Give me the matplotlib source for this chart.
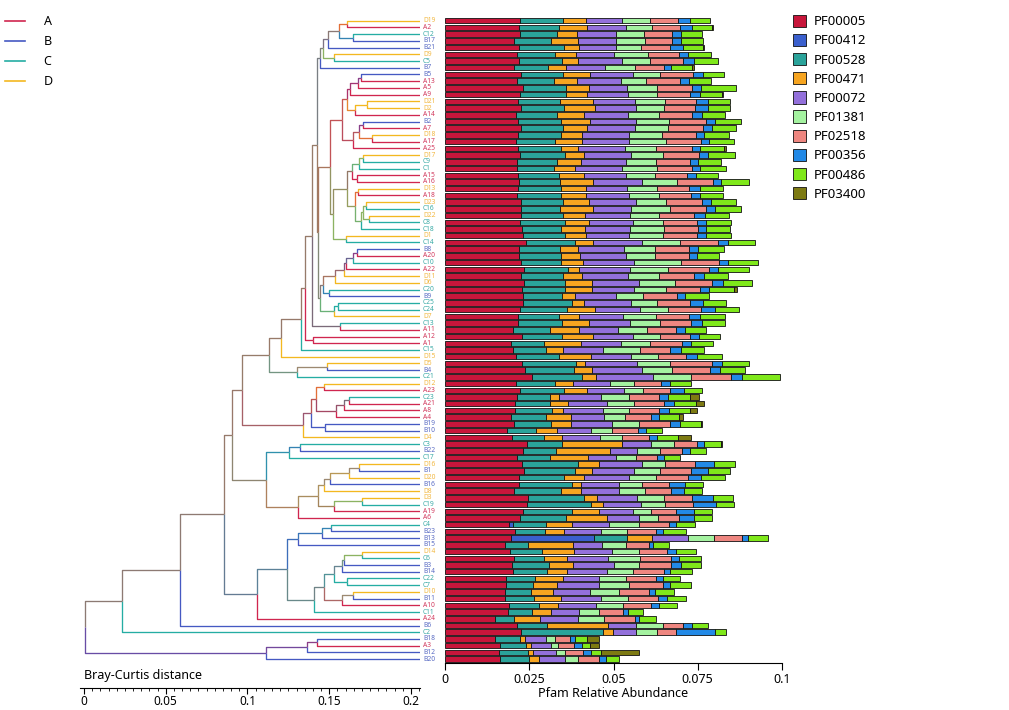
import numpy as np
import matplotlib
matplotlib.use("Agg")
import matplotlib.pyplot as plt
import matplotlib.colors as mcolors
from matplotlib.lines import Line2D
from matplotlib.patches import Patch

plt.rcParams["font.family"] = ["Noto Sans", "DejaVu Sans"]

# ---------------------------------------------------------------------------
# Data
# ---------------------------------------------------------------------------
samples = [
    "D19", "A2", "C12", "B17", "B21", "D9", "C5", "B7", "B5", "A13",
    "A5", "A9", "D21", "D2", "A14", "B2", "A7", "D18", "A17", "A25",
    "D17", "C9", "C1", "A15", "A16", "D13", "A18", "D23", "C16", "D22",
    "C8", "C18", "D1", "C14", "B8", "A20", "C10", "A22", "D11", "D6",
    "C20", "B9", "C25", "C24", "D7", "C13", "A11", "A12", "A1", "C15",
    "D15", "D5", "B4", "C21", "D12", "A23", "C23", "A21", "A8", "A4",
    "B19", "B10", "D4", "C3", "B22", "C17", "D16", "B1", "D20", "B16",
    "D8", "D3", "C19", "A19", "A6", "C4", "B23", "B13", "B15", "D14",
    "C6", "B3", "B14", "C22", "C7", "D10", "B11", "A10", "C11", "A24",
    "B6", "C2", "B18", "A3", "B12", "B20",
]

groups = ["A", "B", "C", "D"]
group_colors = ["#d0264f", "#4559c2", "#25ada3", "#f3b820"]
label_colors = ["#d23a5e", "#5a6cc4", "#3aaaa6", "#f2b842"]

families = ["PF00005", "PF00412", "PF00528", "PF00471", "PF00072",
            "PF01381", "PF02518", "PF00356", "PF00486", "PF03400"]
family_colors = ["#c8163b", "#3a5fcd", "#2aa39a", "#f7a520", "#9370db",
                 "#a4f2a0", "#ee8680", "#2289e6", "#7fe81a", "#7d7a12"]

# relative abundance, in units of 1e-3, one value per sample (same order)
pf00005 = [22.3, 22.1, 22.3, 20.5, 22.1, 21.5, 22.1, 20.6, 22.6, 21.3,
           23.2, 22.3, 21.8, 22.6, 21.2, 21.8, 22.6, 21.8, 21.2, 21.8,
           22.4, 21.3, 21.5, 21.8, 22.0, 21.8, 21.3, 22.6, 22.6, 22.6,
           22.4, 22.9, 23.1, 24.1, 22.1, 21.9, 22.6, 23.5, 22.7, 23.4,
           22.9, 23.1, 23.1, 22.3, 21.8, 21.8, 20.3, 22.9, 19.6, 20.3,
           21.2, 22.9, 23.8, 25.8, 21.1, 22.4, 21.3, 20.8, 20.8, 19.7,
           20.6, 18.3, 19.8, 24.4, 23.2, 21.5, 22.9, 23.5, 22.1, 22.1,
           20.6, 24.7, 24.2, 23.2, 22.4, 19.0, 20.8, 19.6, 17.9, 19.3,
           20.5, 20.0, 20.3, 18.1, 18.1, 17.8, 17.9, 19.0, 18.6, 14.9,
           21.5, 22.6, 14.9, 16.4, 16.1, 16.4]
pf00412 = [0, 0, 0, 0, 0, 0, 0, 0, 0, 0,
           0, 0, 0, 0, 0, 0, 0, 0, 0, 0,
           0, 0, 0, 0, 0, 0, 0, 0, 0, 0,
           0, 0, 0, 0, 0, 0, 0, 0, 0, 0,
           0, 0, 0, 0, 0, 0, 0, 0, 0, 0,
           0, 0, 0, 0, 0, 0, 0, 0, 0, 0,
           0, 0, 0, 0, 0, 0, 0, 0, 0, 0,
           0, 0, 0, 0, 0, 1.3, 0, 24.7, 0, 0,
           0, 0, 0, 0, 0, 0, 0, 0, 0, 0,
           0, 0, 0, 0, 0, 0]
pf00528 = [12.6, 11.6, 10.8, 10.9, 13.2, 11.1, 12.6, 9.9, 12.5, 11.0,
           12.6, 13.6, 12.2, 12.8, 11.9, 12.5, 12.4, 12.6, 11.3, 12.5,
           13.1, 11.8, 10.7, 11.9, 12.2, 12.7, 13.1, 12.5, 11.6, 12.5,
           13.1, 11.4, 12.5, 14.5, 11.9, 12.6, 11.7, 13.0, 12.4, 12.3,
           12.8, 11.7, 14.6, 14.0, 12.1, 12.8, 11.0, 11.8, 9.9, 9.6,
           12.5, 15.9, 14.5, 14.9, 11.6, 12.8, 10.0, 10.3, 10.9, 10.2,
           10.8, 8.6, 9.7, 10.4, 9.8, 9.6, 16.7, 15.1, 13.2, 15.7,
           13.7, 16.4, 19.1, 14.6, 13.6, 9.6, 9.0, 9.8, 6.8, 9.5,
           9.0, 11.0, 9.9, 8.5, 8.1, 7.7, 8.5, 8.9, 7.3, 5.7,
           8.9, 24.3, 7.5, 7.7, 8.6, 8.6]
pf00471 = [7.0, 8.5, 6.2, 8.2, 4.6, 6.4, 4.9, 5.3, 8.0, 6.8,
           7.0, 6.3, 9.9, 9.1, 8.2, 8.6, 7.1, 6.4, 8.3, 5.3,
           5.6, 7.4, 6.4, 7.4, 9.6, 7.4, 7.4, 7.7, 9.8, 6.5,
           7.1, 7.3, 6.1, 5.3, 5.6, 5.7, 6.7, 3.4, 5.6, 7.8,
           7.8, 3.9, 3.6, 8.3, 6.0, 8.0, 8.6, 9.2, 11.0, 5.2,
           9.6, 2.8, 5.4, 4.2, 5.4, 6.8, 2.6, 5.5, 3.2, 7.5,
           6.0, 6.4, 5.3, 17.6, 15.9, 11.3, 6.2, 5.0, 5.8, 2.7,
           6.2, 3.9, 3.7, 7.9, 12.0, 7.7, 5.6, 7.4, 13.2, 9.6,
           6.8, 7.1, 6.1, 8.5, 7.1, 6.4, 8.0, 5.7, 5.6, 7.5,
           17.9, 3.0, 1.2, 1.4, 1.5, 2.8]
pf00072 = [10.7, 11.4, 11.3, 11.0, 10.7, 11.2, 13.0, 11.8, 12.8, 13.0,
           11.1, 12.0, 12.6, 12.2, 12.9, 13.8, 14.3, 13.9, 13.9, 13.9,
           14.2, 13.3, 13.8, 12.5, 14.6, 12.2, 12.7, 13.8, 11.1, 13.4,
           13.1, 13.2, 12.9, 14.5, 13.4, 13.5, 15.1, 14.9, 13.6, 14.1,
           12.7, 12.0, 13.8, 13.4, 13.0, 12.2, 11.3, 12.0, 11.8, 11.8,
           11.8, 15.5, 14.7, 16.9, 10.8, 11.0, 12.4, 11.6, 12.1, 9.9,
           12.3, 9.9, 11.2, 8.8, 8.1, 8.3, 12.7, 12.5, 13.5, 11.2,
           11.0, 11.9, 11.1, 10.1, 9.5, 11.2, 11.0, 10.7, 8.8, 11.3,
           12.2, 12.1, 11.8, 10.7, 12.5, 11.0, 11.8, 11.1, 8.3, 11.4,
           8.3, 6.8, 6.3, 6.0, 6.8, 7.9]
pf01381 = [8.1, 7.7, 8.4, 8.6, 7.7, 9.9, 8.3, 8.7, 8.0, 7.4,
           9.0, 8.8, 8.7, 8.4, 9.2, 9.9, 9.7, 9.6, 10.9, 9.2,
           9.4, 8.9, 10.6, 8.8, 10.4, 8.7, 9.0, 9.0, 11.7, 8.6,
           9.0, 10.3, 10.1, 11.2, 9.2, 8.5, 13.9, 11.5, 9.2, 10.7,
           9.5, 8.2, 7.8, 8.3, 9.6, 8.9, 8.7, 8.0, 8.4, 11.1,
           8.1, 9.8, 8.9, 11.1, 7.1, 5.9, 8.3, 8.0, 7.6, 6.0,
           8.0, 6.4, 6.4, 6.8, 6.8, 5.9, 6.9, 7.7, 8.0, 6.7,
           7.8, 8.0, 7.1, 5.4, 5.6, 8.7, 7.7, 7.7, 6.9, 7.8,
           9.5, 7.3, 7.6, 7.8, 8.9, 8.6, 8.0, 8.0, 6.0, 7.8,
           8.0, 6.2, 2.6, 2.1, 2.7, 3.9]
pf02518 = [8.3, 8.3, 8.5, 8.3, 8.5, 9.2, 9.8, 8.8, 9.8, 10.1,
           10.3, 9.8, 9.3, 9.2, 9.8, 10.7, 10.5, 10.1, 10.5, 10.7,
           10.7, 10.1, 10.3, 9.5, 10.6, 9.5, 9.6, 10.7, 10.6, 10.3,
           10.1, 9.9, 10.2, 11.4, 10.1, 10.1, 11.3, 11.9, 10.3, 10.8,
           10.1, 9.9, 9.9, 9.8, 9.8, 9.3, 8.7, 8.8, 9.5, 8.9,
           8.2, 12.4, 11.2, 12.1, 8.2, 7.9, 8.9, 8.9, 9.0, 7.9,
           9.1, 7.7, 8.2, 6.7, 6.5, 6.4, 8.9, 9.3, 9.4, 8.0,
           7.8, 8.5, 8.3, 7.4, 6.4, 8.9, 8.5, 8.1, 7.0, 8.5,
           9.1, 9.5, 9.4, 9.0, 10.1, 9.0, 9.1, 8.5, 7.1, 9.2,
           5.9, 5.7, 4.7, 4.7, 5.3, 6.2]
pf00356 = [3.6, 3.6, 2.6, 2.6, 3.9, 2.9, 3.3, 2.1, 2.9, 2.7,
           2.9, 3.0, 3.5, 3.6, 3.1, 2.7, 2.6, 2.5, 2.3, 2.3,
           2.7, 2.4, 2.4, 2.5, 2.4, 3.3, 2.7, 2.5, 2.7, 3.2,
           2.7, 2.5, 2.6, 3.1, 2.8, 2.6, 2.7, 2.9, 3.0, 3.4,
           2.6, 2.3, 3.8, 4.1, 3.3, 3.2, 2.6, 2.6, 2.9, 3.2,
           3.5, 3.0, 3.0, 3.0, 2.6, 4.0, 2.7, 3.0, 2.8, 2.4,
           2.8, 2.3, 2.4, 2.2, 2.4, 2.1, 5.5, 5.0, 4.0, 4.7,
           3.7, 6.2, 6.8, 5.3, 4.5, 2.0, 2.2, 2.0, 1.2, 2.4,
           2.2, 3.0, 1.8, 2.0, 2.0, 1.9, 2.5, 2.2, 1.5, 1.1,
           2.9, 11.6, 1.4, 2.5, 2.2, 2.1]
pf00486 = [6.1, 6.0, 6.2, 6.6, 5.8, 6.8, 6.9, 6.2, 6.2, 6.7,
           10.3, 6.5, 6.5, 6.7, 6.9, 7.7, 7.1, 7.3, 7.4, 7.2,
           8.0, 6.8, 7.7, 6.7, 8.3, 6.8, 6.6, 7.5, 7.6, 7.3,
           7.5, 7.1, 7.3, 8.0, 7.6, 6.4, 8.9, 9.0, 7.3, 8.5,
           7.5, 7.3, 6.9, 7.1, 7.4, 6.8, 6.1, 6.3, 6.3, 6.7,
           7.4, 7.9, 7.4, 11.5, 6.1, 5.5, 6.4, 6.5, 6.2, 5.7,
           6.3, 4.9, 6.2, 4.9, 4.7, 4.6, 6.2, 6.4, 7.2, 5.5,
           5.5, 5.9, 5.4, 5.2, 5.3, 5.8, 6.6, 5.9, 4.7, 6.1,
           6.8, 6.1, 6.5, 5.1, 6.3, 5.6, 5.7, 5.5, 4.5, 5.1,
           4.5, 3.3, 3.4, 2.3, 3.2, 3.8]
pf03400 = [0, 0.3, 0, 0, 0.5, 0, 0, 0.5, 0, 0,
           0, 0.3, 0, 0, 0, 0, 0, 0, 0, 0.4,
           0, 0, 0, 0, 0, 0, 0, 0, 0, 0,
           0, 0, 0, 0, 0, 0, 0, 0, 0, 0,
           0.7, 0, 0, 0, 0, 0, 0, 0, 0, 0,
           0, 0, 0, 0, 0, 0, 2.9, 2.4, 2.1, 1.4,
           0.5, 0, 3.9, 0.3, 0, 0, 0, 0, 0, 0,
           0, 0, 0, 0, 0, 0, 0, 0, 0, 0,
           0, 0, 0, 0, 0, 0, 0, 0, 0, 0,
           0, 0, 3.8, 2.5, 11.1, 0]

family_values = [pf00005, pf00412, pf00528, pf00471, pf00072,
                 pf01381, pf02518, pf00356, pf00486, pf03400]

# Bray-Curtis clustering, written as (merge position on the axis, left, right)
top_0_7 = (0.1443, (0.1462, (0.1492, (0.1560, (0.1609, "D19", "A2"),
                                       (0.1645, "C12", "B17")), "B21"),
                    (0.1529, "D9", "C5")), "B7")
top_8_14 = (0.1609, (0.1627, (0.1676, (0.1694, "B5", "A13"), "A5"), "A9"),
            (0.1657, (0.1731, "D21", "D2"), "A14"))
top_15_19 = (0.1645, (0.1682, (0.1706, "B2", "A7"), (0.1761, "D18", "A17")), "A25")
top_20_24 = (0.1639, (0.1682, (0.1706, "D17", "C9"), "C1"), (0.1670, "A15", "A16"))
top_25_31 = (0.1657, (0.1676, "D13", "A18"),
             (0.1692, (0.1706, (0.1725, "D23", "C16"), (0.1743, "D22", "C8")), "C18"))
top_8_33 = (0.1505, (0.1578, top_8_14, top_15_19),
            (0.1525, (0.1609, top_20_24, top_25_31), (0.1602, "D1", "C14")))
top_34_44 = (0.1443,
             (0.1462, (0.1535, (0.1590, (0.1602, (0.1647, (0.1668, "B8", "A20"), "C10"),
                                         "A22"), "D11"), "D6"),
              (0.1500, "C20", "B9")),
             (0.1529, (0.1555, "C25", "C24"), "D7"))
top_0_50 = (0.1203, (0.1325, (0.1352, (0.1393, (0.1423, top_0_7, (0.1431, top_8_33, top_34_44)),
                                       (0.1566, "C13", "A11")),
                              (0.1402, "A12", "A1")), "C15"), "D15")
mid_0_62 = (0.0965,
            (0.1133, top_0_50, (0.1301, (0.1488, "D5", "B4"), "C21")),
            (0.1341, (0.1387, (0.1417, (0.1470, "D12", "A23"),
                               (0.1539, (0.1590, (0.1623, "C23", "A21"), "A8"), "A4")),
                      (0.1474, "B19", "B10")), "D4"))
mid_63_74 = (0.1113, (0.1254, (0.1321, "C3", "B22"), "C17"),
             (0.1311, (0.1429, (0.1470, (0.1505, (0.1623, (0.1682, "D16", "B1"), "D20"),
                                         "B16"), "D8"),
                               (0.1531, (0.1702, "D3", "C19"), "A19")), "A6"))
low_75_89 = (0.1056,
             (0.1243, (0.1311, (0.1456, (0.1509, "C4", "B23"), "B13"), "B15"),
              (0.1407, (0.1470, (0.1531, (0.1578, (0.1590, (0.1699, "D14", "C6"), "B3"), "B14"),
                                 (0.1607, "C22", "C7")),
                        (0.1576, (0.1647, "D10", "B11"), "A10")), "C11")),
             "A24")
bottom_4 = (0.1113, (0.1364, (0.1425, "B18", "A3"), "B12"), "B20")
tree = (0.0006, (0.0231, (0.0587, (0.0856, (0.0903, mid_0_62, mid_63_74), low_75_89), "B6"),
                 "C2"), bottom_4)

LEAF_END = 0.2055

# ---------------------------------------------------------------------------
# Figure
# ---------------------------------------------------------------------------
W, H = 1009, 710
fig = plt.figure(figsize=(W / 100, H / 100), dpi=100)


# rows: y_px = 20.7 + 6.72 * row
def row_at(px):
    return (px - 20.7) / 6.72


ax_tree = fig.add_axes([79.9 / W, 1 - 688 / H, 340.1 / W, 674 / H])
ax_tree.set_xlim(-0.0025, LEAF_END)
ax_tree.set_ylim(row_at(688), row_at(14))

ax_bar = fig.add_axes([445 / W, 1 - 663 / H, 337 / W, 649 / H])
ax_bar.set_xlim(0, 0.1)
ax_bar.set_ylim(row_at(663), row_at(14))

row_of = {s: i for i, s in enumerate(samples)}
gcol = {g: np.array(mcolors.to_rgb(c)) for g, c in zip(groups, group_colors)}


def draw(node):
    if isinstance(node, str):
        return row_of[node], LEAF_END, [gcol[node[0]]]
    h, a, b = node
    ya, xa, ca = draw(a)
    yb, xb, cb = draw(b)
    y = (ya + yb) / 2
    for yy, xx, cc in ((ya, xa, ca), (yb, xb, cb)):
        ax_tree.plot([xx, h, h], [yy, yy, y], color=np.mean(cc, axis=0),
                     lw=0.95, solid_joinstyle="round", solid_capstyle="butt")
    return y, h, ca + cb


draw(tree)

for i, s in enumerate(samples):
    ax_tree.text(0.2073, i, s, fontsize=4.8, ha="left", va="center",
                 color=label_colors[groups.index(s[0])], clip_on=False)

for sp in ("top", "right", "left"):
    ax_tree.spines[sp].set_visible(False)
ax_tree.set_yticks([])
ax_tree.set_xticks([0, 0.05, 0.1, 0.15, 0.2])
ax_tree.set_xticklabels(["0", "0.05", "0.1", "0.15", "0.2"])
ax_tree.set_xticks(np.arange(0, 0.2051, 0.005), minor=True)
ax_tree.tick_params(axis="x", which="major", length=4, width=0.8, labelsize=8.5, pad=1)
ax_tree.tick_params(axis="x", which="minor", length=2.5, width=0.6)
fig.text(84 / W, 1 - 675 / H, "Bray-Curtis distance", fontsize=9,
         ha="left", va="center")

# stacked bars
rows = np.arange(len(samples))
left = np.zeros(len(samples))
for vals, col in zip(family_values, family_colors):
    v = np.array(vals) * 1e-3
    m = v > 0
    ax_bar.barh(rows[m], v[m], left=left[m], height=0.82, color=col,
                edgecolor="#111111", linewidth=0.6)
    left += v

for sp in ("top", "right", "left"):
    ax_bar.spines[sp].set_visible(False)
ax_bar.set_yticks([])
ax_bar.set_xticks([0, 0.025, 0.05, 0.075, 0.1])
ax_bar.set_xticklabels(["0", "0.025", "0.05", "0.075", "0.1"])
ax_bar.tick_params(axis="x", length=5, width=0.8, labelsize=9, pad=2)
ax_bar.set_xlabel("Pfam Relative Abundance", fontsize=9, labelpad=1)

# legends
g_handles = [Line2D([], [], color=c, lw=1.2) for c in group_colors]
fig.legend(g_handles, groups, loc="upper left", bbox_to_anchor=(0.0, 1 - 10 / H),
           frameon=False, fontsize=9, handlelength=1.6, handletextpad=1.5,
           labelspacing=0.56, borderaxespad=0)

f_handles = [Patch(facecolor=c, edgecolor="#111111", linewidth=0.6) for c in family_colors]
fig.legend(f_handles, families, loc="upper left", bbox_to_anchor=(790 / W, 1 - 12 / H),
           frameon=False, fontsize=9.5, handlelength=1.05, handleheight=1.05,
           handletextpad=0.55, labelspacing=0.42, borderaxespad=0, borderpad=0.2)

fig.savefig("out.png", dpi=100)
